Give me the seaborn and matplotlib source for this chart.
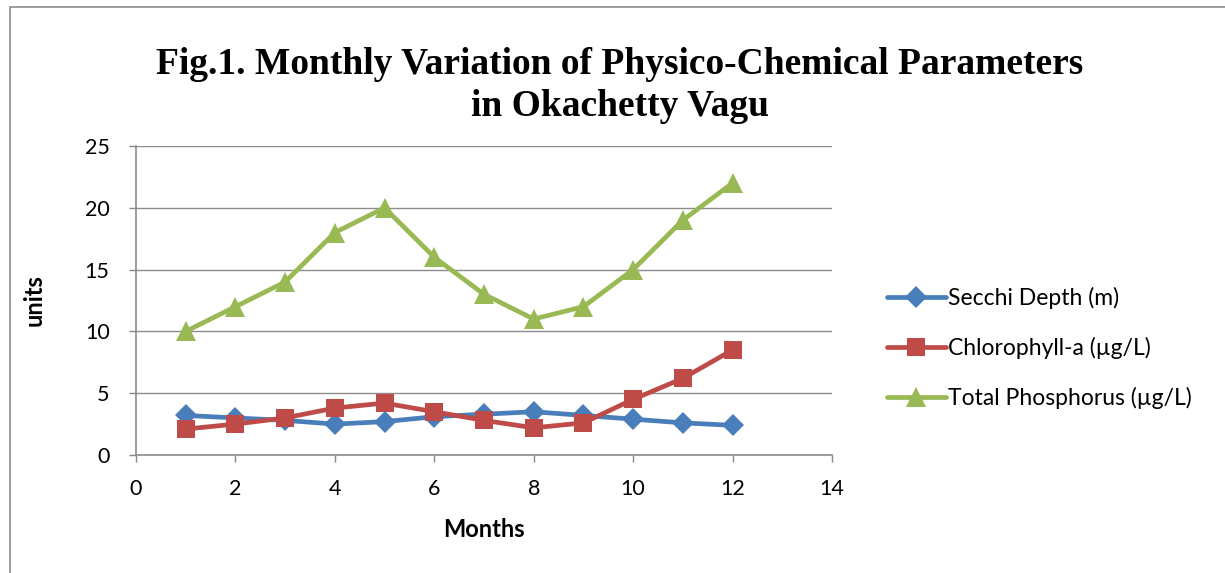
import numpy as np
import pandas as pd
import matplotlib
matplotlib.use("Agg")
import matplotlib.pyplot as plt
import seaborn as sns
from matplotlib.patches import Rectangle

months = [1, 2, 3, 4, 5, 6, 7, 8, 9, 10, 11, 12]
secchi = [3.2, 3.0, 2.8, 2.5, 2.7, 3.1, 3.3, 3.5, 3.2, 2.9, 2.6, 2.4]
chlorophyll = [2.1, 2.5, 3.0, 3.8, 4.2, 3.5, 2.8, 2.2, 2.6, 4.5, 6.2, 8.5]
phosphorus = [10, 12, 14, 18, 20, 16, 13, 11, 12, 15, 19, 22]
series_names = ["Secchi Depth (m)", "Chlorophyll-a (\u00b5g/L)", "Total Phosphorus (\u00b5g/L)"]
x_ticks = [0, 2, 4, 6, 8, 10, 12, 14]
y_ticks = [0, 5, 10, 15, 20, 25]

df = pd.concat([
    pd.DataFrame({"Month": months, "value": secchi, "series": series_names[0]}),
    pd.DataFrame({"Month": months, "value": chlorophyll, "series": series_names[1]}),
    pd.DataFrame({"Month": months, "value": phosphorus, "series": series_names[2]}),
])

sns.set_style("white")
plt.rcParams["font.family"] = ["Lato", "DejaVu Sans"]
plt.rcParams["text.color"] = "black"
plt.rcParams["axes.labelcolor"] = "black"
plt.rcParams["xtick.color"] = "black"
plt.rcParams["ytick.color"] = "black"

W, H = 1225, 573
fig = plt.figure(figsize=(W / 100, H / 100), dpi=100)
ax = fig.add_axes([136 / W, 1 - 455 / H, (832 - 136) / W, (455 - 146) / H])

palette = {series_names[0]: "#4A7EBB", series_names[1]: "#BE4B48", series_names[2]: "#98B954"}
markers = {series_names[0]: "D", series_names[1]: "s", series_names[2]: "^"}
sizes_m = {series_names[0]: 11, series_names[1]: 13.5, series_names[2]: 14}

for name in series_names:
    sub = df[df["series"] == name]
    sns.lineplot(data=sub, x="Month", y="value", ax=ax, color=palette[name],
                 marker=markers[name], markersize=sizes_m[name], linewidth=3.4,
                 markeredgewidth=0, label=name)

ax.set_xlim(0, 14)
ax.set_ylim(0, 25)
ax.set_xticks(x_ticks)
ax.set_yticks(y_ticks)
ax.tick_params(axis="both", labelsize=15.5, length=5, width=1, color="#888888",
               labelcolor="black", direction="out")
ax.tick_params(axis="x", pad=12)
ax.tick_params(axis="y", pad=14)
ax.yaxis.grid(True, color="#8c8c8c", linewidth=1)
ax.xaxis.grid(False)
for s in ["top", "right"]:
    ax.spines[s].set_visible(False)
for s in ["left", "bottom"]:
    ax.spines[s].set_color("#8c8c8c")
    ax.spines[s].set_linewidth(1.2)
ax.tick_params(bottom=True, left=True)

ax.set_xlabel("Months", fontsize=17, fontweight="bold", labelpad=14, color="black")
ax.set_ylabel("units", fontsize=17, fontweight="bold", labelpad=28, color="black")

fig.text(620 / W, 1 - 65 / H, "Fig.1. Monthly Variation of Physico-Chemical Parameters",
         ha="center", va="center", fontsize=27, fontweight="bold", family="Liberation Serif",
         color="black")
fig.text(620 / W, 1 - 107 / H, "in Okachetty Vagu",
         ha="center", va="center", fontsize=27, fontweight="bold", family="Liberation Serif",
         color="black")

leg = ax.legend(loc="center left", bbox_to_anchor=(866 / W, 1 - 348 / H),
                bbox_transform=fig.transFigure, frameon=False, fontsize=16.5,
                handlelength=2.6, handletextpad=0.1, labelspacing=1.2)
for t in leg.get_texts():
    t.set_color("black")

fig.patches.append(Rectangle((10 / W, -0.05), 1.2, 1 - 7 / H + 0.05, transform=fig.transFigure,
                             fill=False, edgecolor="#8c8c8c", linewidth=1.2))

fig.savefig("out.png", dpi=100)
